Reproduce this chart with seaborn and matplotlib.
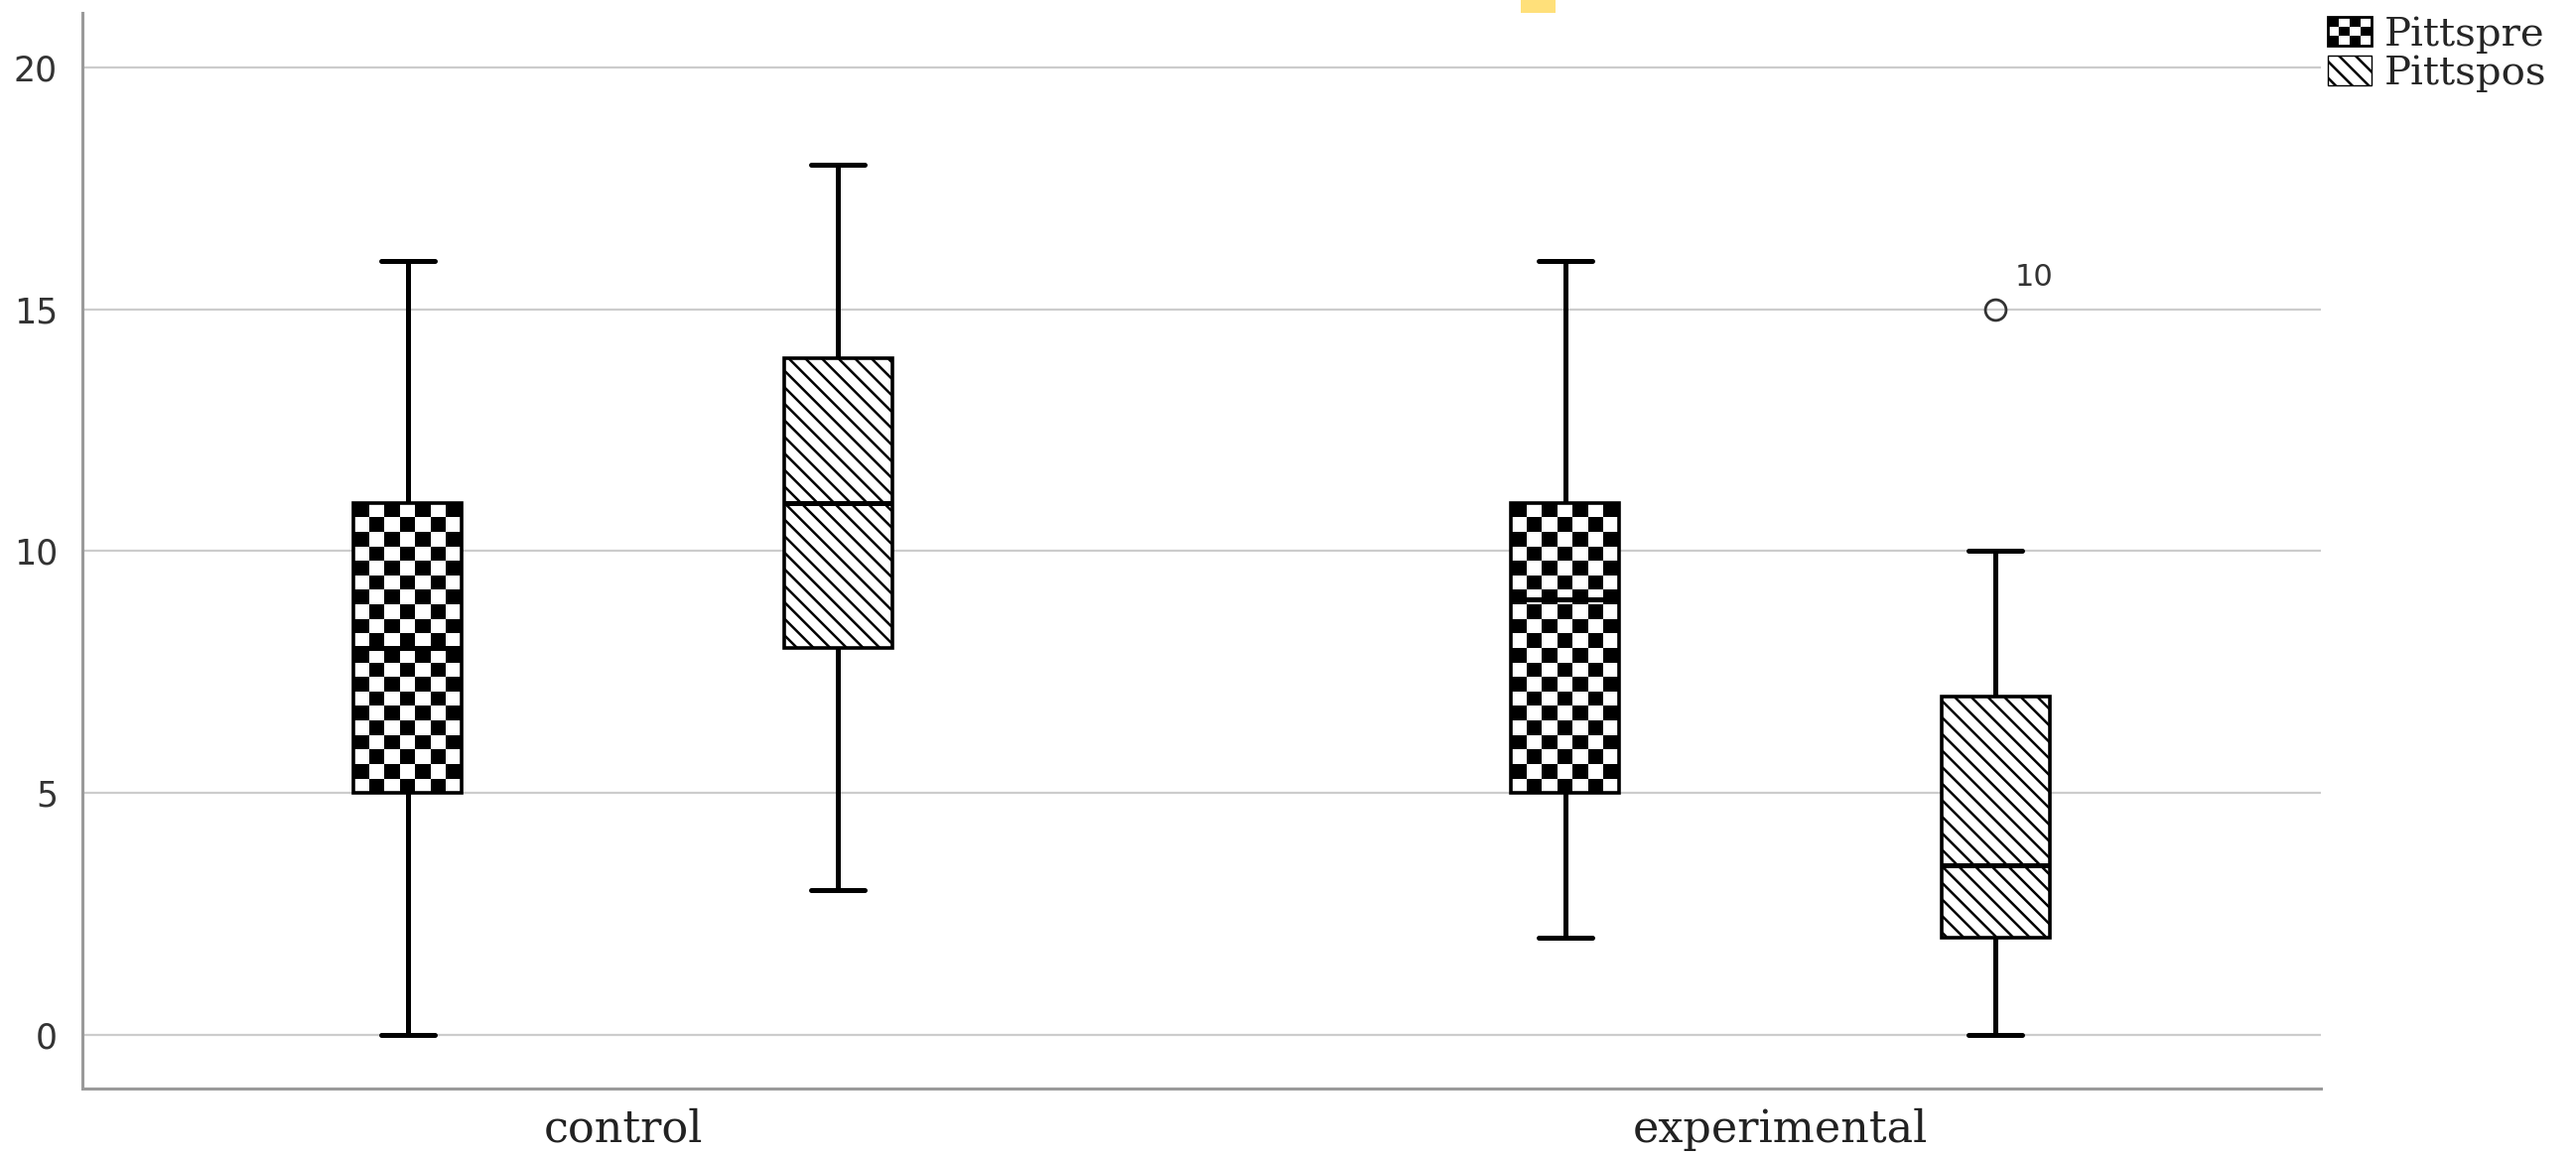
#!/usr/bin/env python3
"""Grouped box plot: Pittsburgh sleep score before/after, control vs experimental."""

import numpy as np
import pandas as pd
import matplotlib
matplotlib.use("Agg")
import matplotlib.pyplot as plt
import seaborn as sns
from matplotlib.patches import Patch, Rectangle
from matplotlib.legend_handler import HandlerBase
from matplotlib.colors import ListedColormap


# ---------------------------------------------------------------------------
# Data (values reproducing each box's five-number summary)
# ---------------------------------------------------------------------------
groups = ["control", "experimental"]
times = ["Pittspre", "Pittspos"]

control_pre = [0, 5, 8, 11, 16]
control_pos = [3, 8, 11, 14, 18]
exp_pre = [2, 5, 9, 11, 16]
exp_pos = [0, 2, 2, 2, 3, 4, 7, 7, 10, 15]

outlier_case = "10"
y_ticks = [0, 5, 10, 15, 20]


def long_frame():
    rows = []
    for grp, tm, vals in [("control", "Pittspre", control_pre),
                          ("control", "Pittspos", control_pos),
                          ("experimental", "Pittspre", exp_pre),
                          ("experimental", "Pittspos", exp_pos)]:
        for v in vals:
            rows.append({"group": grp, "time": tm, "score": v})
    return pd.DataFrame(rows)


class CheckerHandler(HandlerBase):
    """Legend key drawn as a small checkerboard."""

    def create_artists(self, legend, orig_handle, xdescent, ydescent,
                       width, height, fontsize, trans):
        ncols, nrows = 4, 3
        cw, ch = width / ncols, height / nrows
        arts = []
        for i in range(nrows):
            for j in range(ncols):
                if (i + j) % 2 == 0:
                    arts.append(Rectangle((-xdescent + j * cw, -ydescent + (nrows - 1 - i) * ch),
                                          cw, ch, facecolor="black", edgecolor="none",
                                          transform=trans))
        arts.append(Rectangle((-xdescent, -ydescent), width, height, fill=False,
                              edgecolor="black", linewidth=2, transform=trans))
        return arts


sns.set_theme(style="white")
plt.rcParams["font.family"] = ["DejaVu Sans"]
plt.rcParams["hatch.linewidth"] = 1.8

W, H = 2595, 1164
fig = plt.figure(figsize=(W / 100, H / 100), dpi=100)
ax = fig.add_axes([83 / W, (H - 1097) / H, (2338 - 83) / W, (1097 - 13) / H])

df = long_frame()
sns.boxplot(
    data=df, x="group", y="score", hue="time",
    order=groups, hue_order=times,
    palette={t: "white" for t in times}, saturation=1,
    width=0.744, gap=0.75,
    linecolor="black", linewidth=2.6,
    whiskerprops=dict(linewidth=3.6),
    capprops=dict(linewidth=3.6),
    medianprops=dict(linewidth=3.6, color="black", zorder=3),
    flierprops=dict(marker="o", markerfacecolor="none", markeredgecolor="#333333",
                    markersize=15, markeredgewidth=2.0),
    legend=False, ax=ax,
)

ax.set_xlim(-0.467, 1.467)
ax.set_ylim(-1.11, 21.13)
ax.set_yticks(y_ticks)
ax.set_xlabel("")
ax.set_ylabel("")
ax.yaxis.grid(True, color="#cccccc", linewidth=1.6)
ax.xaxis.grid(False)
ax.set_axisbelow(True)

# pattern fills: checkerboard for pre, diagonal hatch for post
cell_px = 14.7
checker_cmap = ListedColormap(["white", "black"])
for p in list(ax.patches):
    bb_disp = p.get_extents()
    bb = bb_disp.transformed(ax.transData.inverted())
    xc = (bb.x0 + bb.x1) / 2
    if xc < round(xc):
        ncols = max(1, int(round(bb_disp.width / cell_px)))
        nrows = max(1, int(round(bb_disp.height / cell_px)))
        xe = np.linspace(bb.x0, bb.x1, ncols + 1)
        ye = np.linspace(bb.y1, bb.y0, nrows + 1)
        checker = (np.indices((nrows, ncols)).sum(axis=0) % 2 == 0).astype(int)
        mesh = ax.pcolormesh(xe, ye, checker, cmap=checker_cmap, vmin=0, vmax=1,
                             shading="flat", antialiased=False, zorder=0.9)
        mesh.set_clip_path(p)
        p.set_facecolor("none")
        p.set_zorder(1)
    else:
        p.set_facecolor("white")
        p.set_hatch("\\\\")
        p.set_edgecolor("black")

ax.set_xlim(-0.467, 1.467)
ax.set_ylim(-1.11, 21.13)

# label the outlier with its case number
for ln in ax.lines:
    if ln.get_marker() == "o" and len(ln.get_xdata()):
        for x, y in zip(ln.get_xdata(), ln.get_ydata()):
            ax.annotate(outlier_case, (x, y), xytext=(14, 23), textcoords="offset points",
                        ha="left", va="center", fontsize=22, color="#333333")

for side in ["top", "right"]:
    ax.spines[side].set_visible(False)
for side in ["left", "bottom"]:
    ax.spines[side].set_color("#9a9a9a")
    ax.spines[side].set_linewidth(2.2)

ax.tick_params(axis="y", length=0, pad=18, labelsize=25, labelcolor="#333333")
ax.tick_params(axis="x", length=0, pad=14, labelsize=32, labelcolor="#222222")
for lbl in ax.get_xticklabels():
    lbl.set_fontfamily("DejaVu Serif")

pre_handle = Patch(facecolor="white", edgecolor="black")
pos_handle = Patch(facecolor="white", edgecolor="black", hatch="\\\\")
fig.legend(handles=[pre_handle, pos_handle], labels=times,
           handler_map={pre_handle: CheckerHandler()},
           loc="upper left", bbox_to_anchor=(2345 / W, 1 - 16 / H),
           frameon=False, borderpad=0, borderaxespad=0,
           handlelength=1.1, handleheight=0.75, handletextpad=0.3,
           labelspacing=0.05, prop={"family": "DejaVu Serif", "size": 29})

# small yellow mark at the top edge of the original image
fig.patches.append(Rectangle((1532 / W, 1 - 13 / H), 35 / W, 13 / H,
                             transform=fig.transFigure, facecolor="#ffe07a",
                             edgecolor="none"))

fig.savefig("out.png", dpi=100)
